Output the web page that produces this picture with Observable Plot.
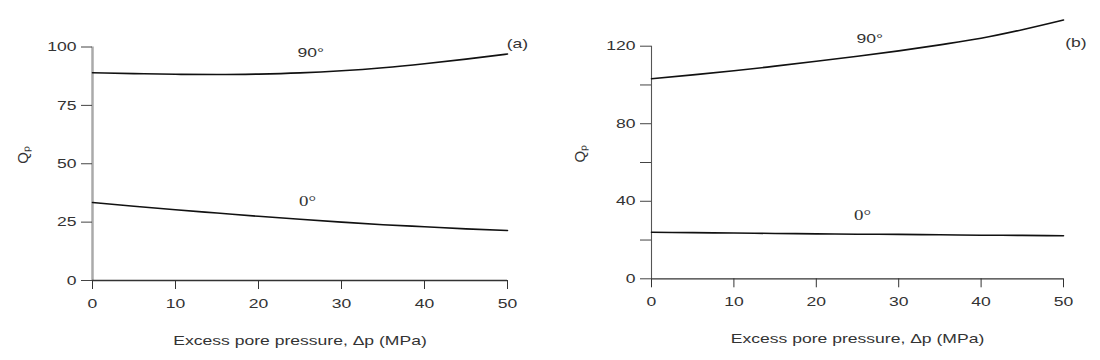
<!DOCTYPE html>
<html><head><meta charset="utf-8">
<script src="https://cdn.jsdelivr.net/npm/d3@7"></script>
<script src="https://cdn.jsdelivr.net/npm/@observablehq/plot@0.6"></script>
<style>
body{margin:0;background:#fff}
#wrap{display:flex;width:1100px;height:360px;overflow:hidden}
</style></head><body><div id="wrap"></div>
<script>
// Excess pore pressure (MPa)
const pressure = [0, 5, 10, 15, 20, 25, 30, 35, 40, 45, 50];
// Panel (a)
const qA90 = [89.0, 88.6, 88.3, 88.2, 88.4, 88.9, 89.8, 91.1, 92.8, 94.8, 97.0];
const qA0  = [33.4, 31.8, 30.3, 28.9, 27.5, 26.2, 25.0, 23.9, 23.0, 22.1, 21.4];
// Panel (b)
const qB90 = [103.2, 105.2, 107.3, 109.7, 112.2, 114.8, 117.6, 120.7, 124.1, 128.5, 133.5];
const qB0  = [24.0, 23.8, 23.6, 23.4, 23.2, 23.0, 22.9, 22.7, 22.5, 22.4, 22.2];

const xTicks = [0, 10, 20, 30, 40, 50];
const yTicksA = [0, 25, 50, 75, 100];
const yTicksB = [0, 20, 40, 60, 80, 100, 120];
const yLabelsB = [0, 40, 80, 120];

const xTitle = "Excess pore pressure, \u0394p (MPa)";
const yTitle = "Q\u209A";
const angleA = [{x: 26.3, y: 97.4, text: "90°"}];
const angleA0 = [{x: 25.9, y: 34.0, text: "0°"}];
const angleB = [{x: 26.5, y: 123.8, text: "90°"}];
const angleB0 = [{x: 25.6, y: 32.7, text: "0°"}];
const tagA = [{x: 51.2, y: 101.5, text: "(a)"}];
const tagB = [{x: 51.5, y: 121.8, text: "(b)"}];

const rows = (ys) => pressure.map((p, i) => ({p, q: ys[i]}));

function panel({yMax, yTicks, yFmt, lines, angles90, angles0, tag, ml, mr, mt, mb, yLineColor, yLineWidth, yLabelDx}) {
  return Plot.plot({
    width: 550, height: 360,
    marginLeft: ml, marginRight: mr, marginTop: mt, marginBottom: mb,
    style: {fontFamily: "'Liberation Sans', Arial, sans-serif", fontSize: "13px", color: "#333", background: "#fff", overflow: "visible"},
    x: {domain: [0, 50]},
    y: {domain: [0, yMax]},
    marks: [
      Plot.ruleX([0], {y1: 0, y2: yMax, stroke: yLineColor, strokeWidth: yLineWidth}),
      Plot.ruleY([0], {x1: 0, x2: 50, stroke: "#333", strokeWidth: 1.3}),
      Plot.axisX(xTicks, {tickSize: 9, tickPadding: 9, stroke: "#333", fill: "#333", fontSize: 13, label: null}),
      Plot.axisY(yTicks, {tickSize: 11, tickPadding: 5, stroke: "#444", fill: "#333", fontSize: 13, tickFormat: yFmt, label: null}),
      ...lines.map(ys => Plot.line(rows(ys), {x: "p", y: "q", curve: "monotone-x", stroke: "#111", strokeWidth: 1.6})),
      Plot.text(angles90, {x: "x", y: "y", text: "text", fontSize: 13, fill: "#333"}),
      Plot.text(angles0, {x: "x", y: "y", text: "text", fontSize: 14, fill: "#333", fontFamily: "'Liberation Serif', serif"}),
      Plot.text(tag, {x: "x", y: "y", text: "text", fontSize: 13, fill: "#333"}),
      Plot.text([xTitle], {text: d => d, frameAnchor: "bottom", dy: 60, lineAnchor: "middle", fontSize: 13, fill: "#333"}),
      Plot.text([yTitle], {text: d => d, frameAnchor: "left", dx: yLabelDx, rotate: -90, lineAnchor: "middle", fontSize: 15, fill: "#333"})
    ]
  });
}

const wrap = document.getElementById("wrap");
const a = panel({yMax: 100, yTicks: yTicksA, yFmt: d => d, lines: [qA90, qA0], angles90: angleA, angles0: angleA0, tag: tagA,
  ml: 92, mr: 43, mt: 46.5, mb: 80, yLineColor: "#aaa", yLineWidth: 2.5, yLabelDx: -69});
const b = panel({yMax: 120, yTicks: yTicksB, yFmt: d => yLabelsB.includes(d) ? d : "", lines: [qB90, qB0], angles90: angleB, angles0: angleB0, tag: tagB,
  ml: 101, mr: 37, mt: 45.7, mb: 81.7, yLineColor: "#555", yLineWidth: 1.1, yLabelDx: -71});
wrap.append(a, b);

// The reference's lettering is horizontally widened; stretch text about its anchor.
for (const svg of [a, b]) {
  svg.querySelectorAll("text").forEach(t => {
    const tr = t.getAttribute("transform") || "";
    if (tr.includes("rotate")) return;
    t.setAttribute("transform", (tr + " scale(1.35,1)").trim());
  });
}
</script></body></html>
